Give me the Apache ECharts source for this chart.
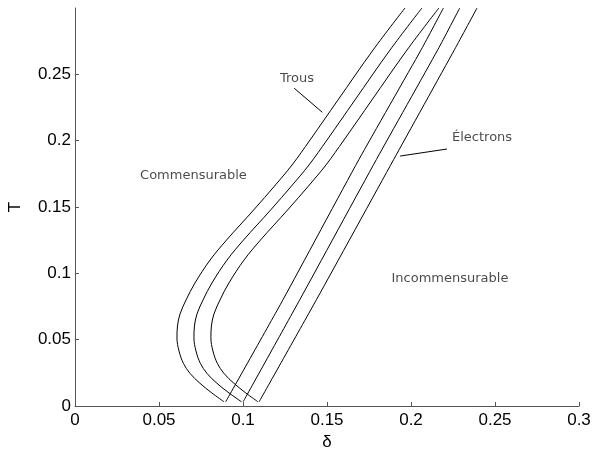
<!DOCTYPE html>
<html>
<head>
<meta charset="utf-8">
<script src="https://cdn.jsdelivr.net/npm/echarts@6/dist/echarts.min.js"></script>
<style>
html,body{margin:0;padding:0;background:#fff;}
#c{width:592px;height:456px;}
</style>
</head>
<body>
<div id="c"></div>
<script>
// ---- data (δ, T) ----
const xTicks = [0, 0.05, 0.1, 0.15, 0.2, 0.25, 0.3];
const yTicks = [0, 0.05, 0.1, 0.15, 0.2, 0.25];

const trous1 = [[0.0887,0.0032],[0.0815,0.0098],[0.0744,0.0171],[0.0685,0.0245],[0.0645,0.0322],[0.0619,0.0415],[0.0607,0.0513],[0.0610,0.0603],[0.0625,0.0693],[0.0661,0.0799],[0.0714,0.0927],[0.0804,0.1100],[0.0902,0.1251],[0.1063,0.1477],[0.1193,0.1666],[0.1292,0.1817],[0.1399,0.2005],[0.1565,0.2306],[0.1774,0.2683],[0.1964,0.3]];
const trous2 = [[0.0991,0.0032],[0.0917,0.0098],[0.0845,0.0171],[0.0786,0.0245],[0.0746,0.0322],[0.0720,0.0415],[0.0708,0.0513],[0.0711,0.0603],[0.0726,0.0693],[0.0762,0.0799],[0.0815,0.0927],[0.0905,0.1100],[0.1003,0.1251],[0.1164,0.1477],[0.1294,0.1666],[0.1393,0.1817],[0.1500,0.2005],[0.1666,0.2306],[0.1875,0.2683],[0.2065,0.3]];
const trous3 = [[0.1089,0.0032],[0.1017,0.0098],[0.0946,0.0171],[0.0887,0.0245],[0.0847,0.0322],[0.0821,0.0415],[0.0809,0.0513],[0.0812,0.0603],[0.0827,0.0693],[0.0863,0.0799],[0.0916,0.0927],[0.1006,0.1100],[0.1104,0.1251],[0.1265,0.1477],[0.1395,0.1666],[0.1494,0.1817],[0.1601,0.2005],[0.1767,0.2306],[0.1976,0.2683],[0.2166,0.3]];

const elec1 = [[0.0897,0.0032],[0.1238,0.0801],[0.169,0.1858],[0.2062,0.2689],[0.2193,0.3]];
const elec2 = [[0.1001,0.0032],[0.1338,0.0801],[0.1794,0.1858],[0.2161,0.2689],[0.229,0.3]];
const elec3 = [[0.1096,0.0032],[0.1437,0.0801],[0.1897,0.1858],[0.226,0.2689],[0.2393,0.3]];

const trousPointer = [[0.1305,0.2395],[0.1472,0.2214]];
const elecPointer = [[0.2214,0.1937],[0.1935,0.1884]];

const labelTexts = ['Trous', 'Électrons', 'Commensurable', 'Incommensurable'];
const labelAnchors = [[0.1321,0.2470],[0.2423,0.2020],[0.0705,0.1735],[0.2232,0.0957]];

const chart = echarts.init(document.getElementById('c'), null, {renderer:'canvas'});
const curves = [trous1, trous2, trous3, elec1, elec2, elec3];
const series = curves.map((d,i)=>({
  type:'line', data:d, showSymbol:false, smooth: i<3 ? 0.35 : 0.2,
  lineStyle:{color:'#000', width:1}, silent:true, clip:true, z:2
}));
[trousPointer, elecPointer].forEach(d=>series.push({
  type:'line', data:d, showSymbol:false, lineStyle:{color:'#000',width:1}, silent:true
}));
series.push({
  type:'scatter', symbolSize:0, silent:true,
  data: labelTexts.map((t,i)=>({value:labelAnchors[i], name:t})),
  label:{show:true, position:'inside', formatter:p=>p.name, color:'#1a1a1a',
    fontFamily:'DejaVu Sans', fontSize:13}
});

const fmt = v => String(+v.toFixed(2));

chart.setOption({
  animation:false,
  backgroundColor:'#fff',
  grid:{left:75, right:13, top:8, bottom:50, containLabel:false, outerBoundsMode:'none'},
  xAxis:{
    type:'value', min:xTicks[0], max:xTicks[xTicks.length-1], interval:0.05,
    name:'δ', nameLocation:'middle', nameGap:23,
    nameTextStyle:{fontFamily:'Liberation Sans', fontSize:17, color:'#000'},
    axisLine:{show:true, lineStyle:{color:'#555', width:1}},
    axisTick:{show:true, inside:true, length:4, lineStyle:{color:'#555'}, customValues:xTicks},
    axisLabel:{formatter:fmt, customValues:xTicks, fontFamily:'Liberation Sans', fontSize:17, color:'#000', margin:6},
    splitLine:{show:false}
  },
  yAxis:{
    type:'value', min:yTicks[0], max:0.3, interval:0.05,
    name:'T', nameLocation:'middle', nameGap:51, nameRotate:90,
    nameTextStyle:{fontFamily:'Liberation Sans', fontSize:17, color:'#000'},
    axisLine:{show:true, lineStyle:{color:'#555', width:1}},
    axisTick:{show:true, inside:true, length:4, lineStyle:{color:'#555'}, customValues:yTicks},
    axisLabel:{formatter:fmt, customValues:yTicks, fontFamily:'Liberation Sans', fontSize:17, color:'#000', margin:4},
    splitLine:{show:false}
  },
  series:series
});
</script>
</body>
</html>
